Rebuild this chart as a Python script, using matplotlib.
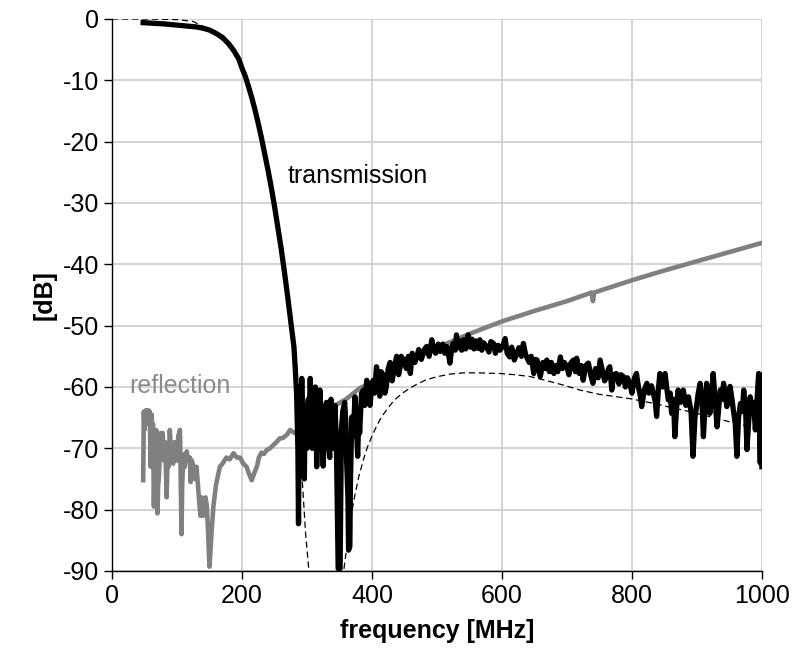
#filter_response
import matplotlib
matplotlib.use('Agg')  # no display, just write the file
from matplotlib import pyplot as plt

# Measured transmission (frequency in MHz, level in dB)
trans_freq = [48, 80, 100, 120, 130, 140, 150, 161, 170, 180, 187, 195, 200, 205, 210, 215,
              220, 225, 230, 235, 240, 245, 250, 255, 260, 265, 270, 275, 280,
              282, 284, 286, 287, 288, 289, 291, 292, 294, 296, 297, 299, 300, 302, 303,
              305, 307, 308, 310, 312, 313, 315, 317, 320, 322, 325, 327, 330, 332, 335,
              337, 338, 340, 341, 343, 345, 346, 348, 351, 353, 355, 358, 360, 361, 363,
              364, 366, 367, 369, 371, 374, 376, 378, 380, 381, 384, 387, 389, 392, 395,
              397, 400, 402, 404, 407, 410, 412, 414, 417, 420, 422, 425, 428, 431, 433,
              436, 438, 441, 443, 445,
              448, 453, 456, 459, 462, 466, 469, 472, 476, 480, 484, 488, 492, 495, 498,
              502, 505, 509, 512, 515, 518, 520, 523, 525, 528, 530, 533, 536, 538, 541,
              544, 548, 551, 554, 557, 560, 563, 566, 569, 572, 576, 580, 583, 587, 590,
              594, 597, 601, 605, 608, 612, 615, 619, 623, 626, 630, 633, 636, 638, 642,
              645, 649, 652, 654, 657, 659, 663, 666, 669, 673, 676, 680, 683, 686, 690,
              693, 696, 700, 703, 706, 710, 713, 715, 719, 722, 725, 729, 733, 737, 740,
              744, 748, 751, 755, 758, 761, 764, 766, 769, 772, 776, 780, 783, 787, 790,
              793, 797, 800, 804, 807, 810, 813, 815, 819, 823, 826, 830, 833, 836, 838,
              841, 843, 847, 851, 854, 856, 859, 861, 864, 866, 869, 871, 875, 879, 883,
              887, 891, 894, 897, 900, 902, 905, 908, 910, 913, 915, 918, 920, 923, 925,
              928, 931, 934, 936, 939, 941, 944, 946, 949, 951, 954, 956, 959, 961.5, 964,
              967, 970, 972, 975, 977, 980, 982, 985, 987, 990, 992, 995, 997.5, 998, 1000]
trans_db = [-0.6, -0.8, -1.0, -1.2, -1.3, -1.5, -1.8, -2.4, -3.0, -4.1, -5.1, -6.5, -8.0,
            -9.3, -11.0, -12.8, -14.8, -17.0, -19.4, -22.0, -24.6, -27.4, -30.5, -33.8,
            -37.2, -41.0, -45.0, -49.2, -53.5,
            -57, -61, -70, -82.3, -66, -60, -65, -58.6, -68, -75, -64, -63, -70, -62, -66,
            -58.6, -64, -70, -62, -66, -60, -73, -65, -60.5, -66, -72.9, -64, -62.5, -68,
            -71.5, -62, -63.5, -70, -67, -63, -68, -74.6, -89.6, -89.6, -67, -64, -62.5, -66,
            -72, -78, -86.6, -86, -75, -64.9, -68, -61.6, -66, -71.3, -64, -67.5, -61,
            -60.5, -63, -58.9, -62, -63, -59.5, -58.9, -61, -56.7, -59, -61.5, -57.5, -58,
            -61, -60, -57, -56, -59, -57.8, -56, -55, -58, -57, -55,
            -55.5, -57, -55, -57.8, -54.5, -56, -55.1, -53.9, -55.5, -54, -53.4, -55, -52.3,
            -54, -54.5, -53, -54.2, -53, -54.5, -53.4, -54.8, -56.1, -53.5, -52.9, -54,
            -51.5, -53.6, -52.5, -54, -52.3, -53.8, -51.5, -53.5, -52.2, -53.8, -52.5, -53.7,
            -52.3, -54, -52.8, -53.4, -54.3, -52.6, -52.9, -54.5, -53.2, -54, -53.4, -52.1,
            -54.5, -55.1, -53.5, -55.6, -54.5, -53.6, -55, -52.9, -54.5, -55.1, -56, -55,
            -57.8, -55.5, -55.6, -57, -58.3, -56, -57, -55.6, -57.5, -56, -57.8, -56.5,
            -57.5, -55.1, -57, -56, -56.7, -58, -56.1, -55.6, -57.5, -55.3, -57.8, -56.5,
            -58.9, -56.5, -56.1, -58.2, -59.4, -57, -58.5, -55.6, -57.5, -59, -58.3, -57,
            -56.7, -60.5, -58, -57.8, -59.5, -58, -58.3, -60, -58.5, -59.4, -61, -58.5,
            -57.8, -60, -61.5, -63.2, -60.5, -59.4, -61, -59.8, -61.0, -62.5, -64.8, -60,
            -57.8, -60, -57.8, -60.5, -62.1, -61, -64.3, -62, -68.1, -63, -60.5, -62.5,
            -60.5, -63, -61.6, -64, -71.3, -65, -62.7, -61, -59.4, -63, -68.1, -62, -59.4,
            -63, -64.3, -61, -57.8, -62, -66.5, -63, -60.5, -62, -59.4, -61.5, -63.2, -61,
            -59.9, -62, -63.7, -66, -71.3, -65, -62.7, -64, -60.5, -64, -70.2, -65, -61.6,
            -64, -62.5, -67, -63, -57.8, -72.4, -58, -73]

# Measured reflection
refl_freq = [48, 49, 50, 52, 53, 55, 56, 58, 59.5, 61, 62, 63, 64.5, 66, 67, 68, 70, 71,
             72, 74, 75, 77, 78, 80, 82, 84, 86, 87, 89, 90, 92, 94, 96, 98, 100, 102, 104.6,
             107, 108, 110, 112, 115, 117, 120, 121, 123, 125, 127, 130, 133, 136, 138, 140.5,
             142, 144, 146, 148, 150, 153, 156, 160, 163, 166, 170, 176, 181, 187, 192, 197,
             202, 207, 211, 215, 219, 223, 226, 230, 234, 238, 243, 248, 253, 258, 263, 269,
             274, 281, 300, 320, 340, 360, 381, 400, 450, 500, 551, 600, 650, 700, 738, 740,
             742, 800, 850, 900, 950, 1000]
refl_db = [-75.2, -64, -67, -63.8, -66, -64.5, -63.8, -64, -73, -64.5, -68, -66, -79.5, -70,
           -74, -67, -80.6, -76, -75, -70, -67.5, -69, -67.5, -72, -69, -78, -70, -73, -67,
           -69, -71, -72.5, -69, -70, -72, -68, -67, -84, -76, -71, -73, -70.5, -72, -71.5,
           -75.5, -72, -73, -75, -73, -77, -81, -78, -81, -78.5, -78, -79.5, -84, -89.3, -84,
           -79.5, -76, -74.5, -73, -72.5, -71.5, -71.8, -70.8, -71.5, -71.5, -72.5, -73,
           -74.2, -75.2, -74, -73, -71.5, -70.7, -70.9, -70.3, -70, -69.5, -69, -68.4, -68.3,
           -67.8, -67, -67.5, -66.5, -65, -63.2, -62, -60.2, -59.3, -56.2, -53.6, -51.3,
           -49.3, -47.6, -46.0, -44.6, -46.0, -44.6, -42.6, -41.0, -39.5, -38.0, -36.5]

# Simulated transmission (dashed)
sim_freq = [0, 50, 100, 125, 151, 176, 192, 200, 210, 220, 230, 240, 250, 260, 270, 280, 285,
            292, 298, 303, 306, 330, 354, 357, 362, 368, 374, 380, 387, 393, 400, 407, 414,
            422, 430, 438, 447, 458, 470, 482, 494, 506, 520, 540, 566, 597, 620, 643.6, 670,
            694.8, 720, 750, 797, 830, 858.5, 900, 951, 975, 1000]
sim_db = [0, 0, -0.1, -0.4, -1.8, -4, -6.1, -7.8, -11.0, -14.8, -19.4, -24.6, -30.5, -37.2,
          -45.0, -53.5, -60, -74, -84, -90, -96, -110, -96, -89.6, -85.5, -81, -77.5, -74.5,
          -71.8, -69.8, -68.0, -66.4, -65.0, -63.8, -62.7, -61.8, -61.0, -60.2, -59.5, -58.9,
          -58.5, -58.2, -57.9, -57.7, -57.7, -57.8, -58, -58.3, -59, -59.7, -60.5, -61.2,
          -61.9, -62.6, -63.3, -64.3, -65.7, -66.3, -67]

plt.rcParams['font.family'] = ['Liberation Sans', 'DejaVu Sans']
plt.rcParams['axes.unicode_minus'] = False

fig = plt.figure(figsize=(7.92, 6.57), dpi=100)
ax = fig.add_axes([0.1414, 0.1309, 0.8206, 0.8402])

# Plot the curves: reflection below, simulation, then measured transmission on top
ax.plot(refl_freq, refl_db, c='#808080', lw=3.3, solid_joinstyle='round', zorder=2)
ax.plot(sim_freq, sim_db, c='black', lw=0.9, ls=(0, (5, 3)), zorder=3)
ax.plot(trans_freq, trans_db, c='black', lw=3.8, solid_joinstyle='round', zorder=4)

# Curve labels
ax.text(378, -25.6, 'transmission', fontsize=18, ha='center', va='center', color='black')
ax.text(105, -59.8, 'reflection', fontsize=18, ha='center', va='center', color='#8a8a8a')

# Axes limits, ticks and grid
ax.set_xlim(0, 1000)
ax.set_ylim(-90, 0)
ax.set_xticks(range(0, 1001, 200))
ax.set_yticks(range(-90, 1, 10))
ax.grid(True, color='#d0d0d0', lw=1.3)
ax.set_axisbelow(True)
for side in ['top', 'right']:
    ax.spines[side].set_visible(False)
for side in ['left', 'bottom']:
    ax.spines[side].set_linewidth(1.0)
    ax.spines[side].set_zorder(5)
ax.tick_params(axis='both', which='major', labelsize=18, length=6, width=1, direction='out')

ax.set_xlabel('frequency [MHz]', fontsize=18, fontweight='bold', labelpad=8)
ax.set_ylabel('[dB]', fontsize=18, fontweight='bold', labelpad=4)

plt.savefig('out.png', dpi=100)
